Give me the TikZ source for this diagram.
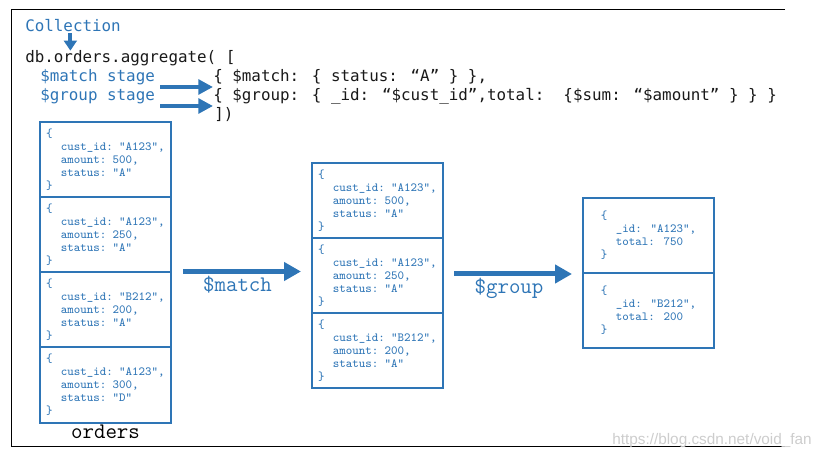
\documentclass[tikz,border=0pt]{standalone}
\usepackage{fontspec}
\setmainfont{Liberation Serif}
\newfontfamily\codefont{DejaVu Sans Mono}
\newfontfamily\wmfont{Liberation Sans}
\usetikzlibrary{arrows.meta,positioning}

\definecolor{docblue}{RGB}{46,117,182}
\definecolor{codeink}{RGB}{25,25,25}
\definecolor{wmgray}{RGB}{205,205,205}

\newcommand{\ind}{\hspace*{1.2em}}

\tikzset{
  codeline/.style={anchor=base west, inner sep=0pt, text=codeink, font=\codefont\fontsize{11.9}{14}\selectfont},
  stagelbl/.style={codeline, text=docblue},
  doccell/.style={draw=docblue, line width=1.5pt, minimum width=98.25pt, minimum height=56.25pt,
    inner xsep=4.5pt, inner ysep=0pt, text width=89.25pt, align=left, text=docblue,
    font=\ttfamily\fontsize{9.3}{9.75}\selectfont},
  grpcell/.style={draw=docblue, line width=1.5pt, minimum width=98.25pt, minimum height=56.25pt,
    inner sep=0pt, align=left, text=docblue, font=\ttfamily\fontsize{9.3}{9.75}\selectfont},
  flowarrow/.style={draw=docblue, line width=3.75pt, -{Triangle[length=12.75pt,width=13.5pt]}},
  stagearrow/.style={draw=docblue, line width=3pt, -{Triangle[length=11pt,width=11pt]}},
  flowlbl/.style={text=docblue, inner sep=1pt, font=\ttfamily\fontsize{16.7}{18}\selectfont},
}

\begin{document}
\begin{tikzpicture}[x=0.75pt,y=0.75pt,yscale=-1,xscale=1]
\useasboundingbox (0,0) rectangle (824,459);

%Shape: Frame
\draw[line width=0.75pt] (785,10) -- (11,10) -- (11,446) -- (785,446);

% Text Node
\node[stagelbl] (coll) at (25,31.5) {Collection};
\node[codeline] (db) at (25,63) {db.orders.aggregate( [};
\node[stagelbl] (mlbl) at (40,82) {\$match stage};
\node[stagelbl] (glbl) at (40,101) {\$group stage};
\node[codeline] (mcode) at (213,82) {\{ \$match: \{ status: “A” \} \},};
\node[codeline] (gcode) at (213,101) {\{ \$group: \{ \_id: “\$cust\_id”,total:~~\{\$sum: “\$amount” \} \} \}};
\node[codeline] (close) at (214,120) {])};

\draw[draw=docblue, line width=3pt, -{Triangle[length=7.5pt,width=9.5pt]}, shorten <=1pt] ([xshift=-2pt]coll.south) -- ([xshift=-2pt]coll.south |- db.north);
\draw[stagearrow, shorten <=4pt] ([yshift=3.75pt]mlbl.base east) -- ([yshift=3.75pt]mcode.base west);
\draw[stagearrow, shorten <=4pt] ([yshift=3.75pt]glbl.base east) -- ([yshift=3.75pt]gcode.base west);

%Shape: orders collection
\node[doccell] (ord1) at (105.5,160) {\{\\\ind cust\_id: “A123”,\\\ind amount: 500,\\\ind status: “A”\\\}};
\node[doccell] (ord2) at (105.5,235) {\{\\\ind cust\_id: “A123”,\\\ind amount: 250,\\\ind status: “A”\\\}};
\node[doccell] (ord3) at (105.5,310) {\{\\\ind cust\_id: “B212”,\\\ind amount: 200,\\\ind status: “A”\\\}};
\node[doccell] (ord4) at (105.5,385) {\{\\\ind cust\_id: “A123”,\\\ind amount: 300,\\\ind status: “D”\\\}};
\node[flowlbl, text=black, below=0pt of ord4] (orders) {orders};

%Shape: after $match
\node[doccell] (mat1) at (377.5,200.5) {\{\\\ind cust\_id: “A123”,\\\ind amount: 500,\\\ind status: “A”\\\}};
\node[doccell] (mat2) at (377.5,275.5) {\{\\\ind cust\_id: “A123”,\\\ind amount: 250,\\\ind status: “A”\\\}};
\node[doccell] (mat3) at (377.5,350.5) {\{\\\ind cust\_id: “B212”,\\\ind amount: 200,\\\ind status: “A”\\\}};

%Shape: after $group
\node[grpcell] (grp1) at (648.5,235.5) {\{\\\ind \_id: “A123”,\\\ind total: 750\\\}};
\node[grpcell] (grp2) at (648.5,310.5) {\{\\\ind \_id: “B212”,\\\ind total: 200\\\}};

%Right Arrow
\draw[flowarrow, shorten <=8.25pt, shorten >=7.5pt] (ord3.north east) -- (ord3.north east -| mat2.west)
  node[flowlbl, midway, below=0.5pt, xshift=-3pt] (matchlbl) {\$match};
\draw[flowarrow, shorten <=7.5pt, shorten >=7.5pt] (grp1.south west -| mat2.east) -- (grp1.south west)
  node[flowlbl, midway, below=0.5pt, xshift=-3pt] (grouplbl) {\$group};

% Text Node
\node[anchor=base east, inner sep=0pt, text=wmgray, font=\wmfont\fontsize{11.5}{13}\selectfont] (wm) at (812,444) {https://blog.csdn.net/void\_fan};

\end{tikzpicture}
\end{document}
